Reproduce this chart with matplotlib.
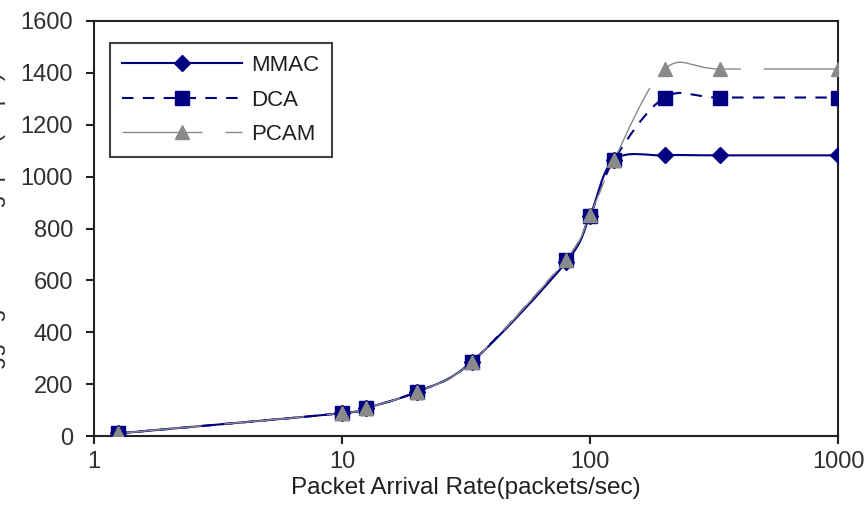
import numpy as np
import matplotlib
matplotlib.use("Agg")
import matplotlib.pyplot as plt
from matplotlib.path import Path
from matplotlib.patches import PathPatch
from matplotlib.lines import Line2D

plt.rcParams['font.family'] = ['Liberation Sans', 'DejaVu Sans']

# packet arrival rate (packets/sec)
rate = [1.25, 10, 12.5, 20, 33.3, 80, 100, 125, 200, 333, 1000]
# aggregate throughput (Kbps)
mmac = [10, 88, 108, 170, 285, 670, 850, 1065, 1082, 1082, 1082]
dca = [10, 88, 108, 170, 285, 678, 850, 1065, 1305, 1305, 1305]
pcam = [10, 88, 108, 170, 285, 680, 852, 1065, 1415, 1415, 1415]

navy = '#000080'
grey = '#8a8a8a'


def smooth_path(xs, ys):
    # spreadsheet-style smoothed line: bezier segments in log-x space
    lx = np.log10(xs)
    y = np.asarray(ys, dtype=float)
    n = len(xs)
    verts = [(xs[0], y[0])]
    codes = [Path.MOVETO]
    for i in range(n - 1):
        a = max(i - 1, 0)
        b = min(i + 2, n - 1)
        c1 = (10 ** (lx[i] + (lx[i + 1] - lx[a]) / 6), y[i] + (y[i + 1] - y[a]) / 6)
        c2 = (10 ** (lx[i + 1] - (lx[b] - lx[i]) / 6), y[i + 1] - (y[b] - y[i]) / 6)
        verts += [c1, c2, (xs[i + 1], y[i + 1])]
        codes += [Path.CURVE4] * 3
    return Path(verts, codes)


fig = plt.figure(figsize=(8.67, 5.12), dpi=100)
ax = fig.add_axes([0.1084, 0.1484, 0.8582, 0.8106])
ax.set_xscale('log')

styles = [
    (mmac, 'MMAC', navy, 1.5, '-', 'D', 8.5),
    (dca, 'DCA', navy, 1.5, (0, (5.5, 4.5)), 's', 10),
    (pcam, 'PCAM', grey, 1.0, (0, (57.6, 16.5)), '^', 10),
]

handles = []
for i, (vals, name, col, lw, ls, mk, ms) in enumerate(styles):
    curve_ls = ls
    if name == 'PCAM':
        curve_ls = (71.3, (57.6, 16.5))
    ax.add_patch(PathPatch(smooth_path(rate, vals), fill=False, edgecolor=col,
                           lw=lw, linestyle=curve_ls, zorder=2 + i))
    ax.plot(rate, vals, linestyle='none', marker=mk, ms=ms, color=col,
            mec=col, zorder=5 + i)
    handles.append(Line2D([], [], color=col, lw=lw, linestyle=ls, marker=mk,
                          ms=ms, mec=col, label=name))

ax.set_xlim(1, 1000)
ax.set_ylim(0, 1600)
ax.set_yticks(np.arange(0, 1601, 200))
ax.set_xticks([1, 10, 100, 1000])
ax.set_xticklabels(['1', '10', '100', '1000'])
ax.xaxis.set_minor_locator(matplotlib.ticker.NullLocator())

for s in ax.spines.values():
    s.set_linewidth(1.5)
    s.set_color('#222222')
ax.tick_params(axis='both', direction='out', length=6, width=1.5,
               color='#222222', labelsize=17, labelcolor='#303030')
ax.tick_params(axis='y', pad=9)
ax.tick_params(axis='x', pad=5)

ax.set_xlabel('Packet Arrival Rate(packets/sec)', fontsize=17.5,
              color='#202020', labelpad=3)
# label sits mostly past the left edge, as in the original
ax.set_ylabel('Aggregate Throughput (Kbps)', fontsize=17, color='#303030')
ax.yaxis.set_label_coords(-0.118, 0.5)

leg = ax.legend(handles=handles, loc='upper left', bbox_to_anchor=(0.0215, 0.947),
                borderaxespad=0, fancybox=False, frameon=True, fontsize=16,
                handlelength=5.4, handletextpad=0.42, labelspacing=0.6,
                borderpad=0.55)
leg.get_frame().set_edgecolor('#111111')
leg.get_frame().set_linewidth(1.5)
for t in leg.get_texts():
    t.set_color('#202020')

fig.savefig('out.png', dpi=100)
